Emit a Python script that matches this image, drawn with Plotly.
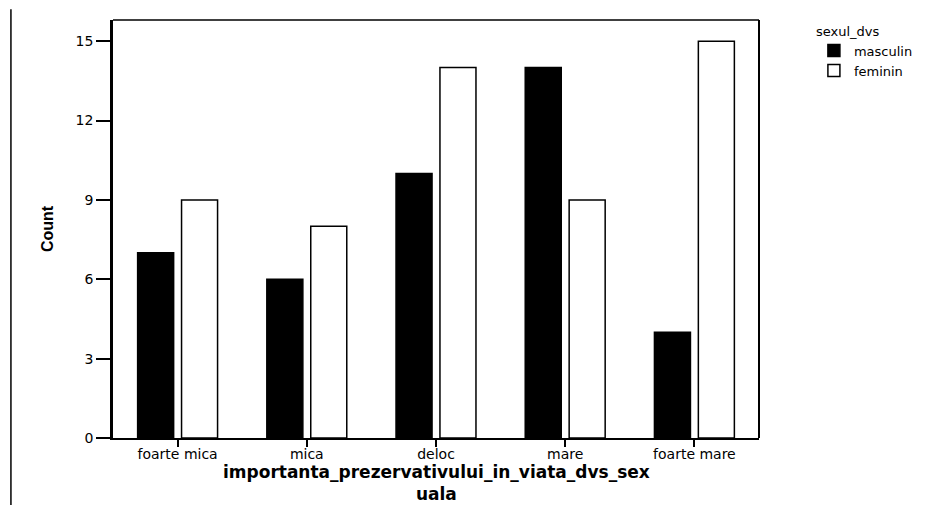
import plotly.graph_objects as go

categories = ["foarte mica", "mica", "deloc", "mare", "foarte mare"]
masculin = [7, 6, 10, 14, 4]
feminin = [9, 8, 14, 9, 15]
y_ticks = [0, 3, 6, 9, 12, 15]
x_title_lines = ["importanta_prezervativului_in_viata_dvs_sex", "uala"]

font = "DejaVu Sans, Verdana, sans-serif"

fig = go.Figure()
fig.add_trace(go.Bar(x=categories, y=masculin, name="masculin",
                     marker=dict(color="black", line=dict(color="black", width=1.5))))
fig.add_trace(go.Bar(x=categories, y=feminin, name="feminin",
                     marker=dict(color="white", line=dict(color="black", width=1.5))))

# page body has an 8px margin: figure is 927x497, placed at (8, 8) in the window
fig.update_layout(
    width=927, height=497,
    margin=dict(l=105, r=176, t=12, b=67, autoexpand=False),
    paper_bgcolor="white", plot_bgcolor="white",
    barmode="group", bargap=0.32, bargroupgap=0.18,
    font=dict(family=font, color="black", size=13),
    showlegend=True,
    legend=dict(
        title=dict(text="sexul_dvs", font=dict(size=13, family=font)),
        x=1.085, y=1.003, xanchor="left", yanchor="top",
        font=dict(size=13, family=font),
        tracegroupgap=0, itemwidth=30,
        bgcolor="rgba(0,0,0,0)",
    ),
    xaxis=dict(
        automargin=False,
        showgrid=False, showline=True, linecolor="black", linewidth=1.5,
        ticks="outside", ticklen=7, tickwidth=2, tickcolor="black",
        tickfont=dict(size=14, family=font), ticklabelstandoff=-5,
    ),
    yaxis=dict(
        automargin=False,
        range=[0, 15.8], tickvals=y_ticks, showgrid=False, zeroline=False,
        showline=True, linecolor="black", linewidth=2.5,
        ticks="outside", ticklen=14, tickwidth=1.5, tickcolor="black",
        tickfont=dict(size=14, family=font),
        title=dict(text="<b>Count</b>",
                   font=dict(size=16, family="Liberation Sans Narrow, Arial Narrow, Liberation Sans, sans-serif"),
                   standoff=19),
    ),
    annotations=[
        dict(text="<b>" + "<br>".join(x_title_lines) + "</b>", xref="paper", yref="paper",
             x=0.5, y=-0.108, xanchor="center", yanchor="middle", showarrow=False,
             align="center", font=dict(size=17, family=font)),
    ],
    shapes=[
        dict(type="line", xref="paper", yref="paper", x0=0, x1=1, y0=1, y1=1,
             line=dict(color="black", width=1.5)),
        dict(type="line", xref="paper", yref="paper", x0=1, x1=1, y0=0, y1=1,
             line=dict(color="black", width=2)),
        dict(type="line", xref="paper", yref="paper", x0=-0.158, x1=-0.158, y0=-0.16, y1=1.026,
             line=dict(color="black", width=1.5)),
    ],
)

fig.write_html("out.html")
